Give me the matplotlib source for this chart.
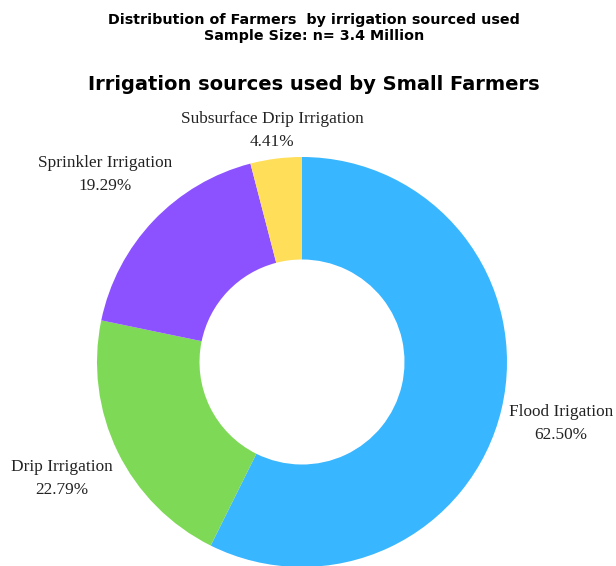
import matplotlib
matplotlib.use("Agg")
import matplotlib.pyplot as plt

# irrigation source shares (percent, as reported)
sources = ["Flood Irigation", "Drip Irrigation", "Sprinkler Irrigation", "Subsurface Drip Irrigation"]
shares = [62.50, 22.79, 19.29, 4.41]
colors = ["#38B6FF", "#7ED957", "#8C52FF", "#FFDE59"]

# where each outside label sits (data coords, pie radius = 1)
label_pos = [(1.263, -0.30), (-1.171, -0.568), (-0.961, 0.915), (-0.146, 1.129)]

W, H = 616, 566
fig = plt.figure(figsize=(W / 100, H / 100), dpi=100)

cx, cy, r = 302, 362, 205
ax = fig.add_axes([(cx - r) / W, (H - cy - r) / H, 2 * r / W, 2 * r / H])
ax.pie(shares, colors=colors, startangle=90, counterclock=False,
       radius=1, wedgeprops=dict(width=0.5, linewidth=0))
ax.set_xlim(-1, 1)
ax.set_ylim(-1, 1)
ax.set_aspect("equal")
ax.axis("off")

for name, val, (x, y) in zip(sources, shares, label_pos):
    ax.text(x, y, f"{name}\n{val:.2f}%", ha="center", va="center",
            multialignment="center", fontsize=12.4, linespacing=1.55,
            family="Liberation Serif", color="#222222", clip_on=False)

fig.text(0.51, 1 - 28 / H, "Distribution of Farmers  by irrigation sourced used\nSample Size: n= 3.4 Million",
         ha="center", va="center", fontsize=10.3, fontweight="bold",
         family="DejaVu Sans", linespacing=1.25)
fig.text(0.51, 1 - 85 / H, "Irrigation sources used by Small Farmers",
         ha="center", va="center", fontsize=14, fontweight="bold",
         family="DejaVu Sans")

fig.savefig("out.png", dpi=100)
